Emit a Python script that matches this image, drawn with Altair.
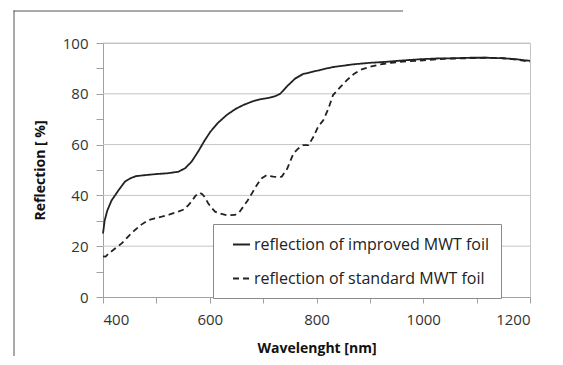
import altair as alt
import pandas as pd

# --- data ---
wl_improved = [400, 403, 408, 416, 429, 441, 452, 462, 480, 500, 520, 541, 554, 566, 579, 590,
               601, 615, 632, 648, 663, 680, 694, 713, 722, 732, 745, 760, 775, 790, 807, 830,
               869, 900, 931, 960, 994, 1025, 1056, 1090, 1120, 1150, 1175, 1190, 1200]
ref_improved = [25, 30, 34, 38, 42, 45.4, 46.8, 47.6, 48, 48.4, 48.7, 49.3, 50.7, 53.3, 57.5, 61.5,
                65, 68.5, 71.7, 74, 75.6, 77, 77.8, 78.5, 79, 80, 83, 86, 87.8, 88.5, 89.4, 90.5,
                91.6, 92.2, 92.6, 93.1, 93.6, 93.9, 94, 94.2, 94.2, 94, 93.6, 93.2, 93]

wl_standard = [400, 405, 410, 422, 435, 448, 460, 472, 485, 497, 510, 525, 541, 552, 560, 566,
               572, 578, 582, 586, 590, 597, 604, 610, 620, 629, 638, 647, 655, 663, 671, 679,
               688, 697, 707, 713, 719, 727, 735, 745, 757, 766, 775, 785, 794, 803, 813, 822,
               831, 844, 857, 870, 882, 900, 919, 940, 970, 1000, 1040, 1080, 1120, 1150, 1180, 1200]
ref_standard = [16, 15.9, 17, 19, 21.1, 24, 26.4, 28.5, 30.3, 31, 31.6, 32.5, 33.6, 34.5, 36.2, 37.6,
                39.5, 40.8, 41, 40.5, 39.5, 36.9, 35, 33.6, 32.8, 32.3, 32.2, 32.3, 33.3, 35.6, 38, 40.8,
                44, 46.7, 48, 47.6, 47.4, 47.2, 47.4, 50.5, 56.6, 58.5, 59.8, 59.8, 63, 67, 69.7, 74,
                79.5, 82.5, 85.4, 87.8, 89.4, 90.6, 91.6, 92.2, 92.8, 93.2, 93.8, 94, 94.2, 94, 93.3, 92.6]

series_names = ["reflection of improved MWT foil", "reflection of standard MWT foil"]
x_ticks = [400, 500, 600, 700, 800, 900, 1000, 1100, 1200]
y_ticks = [0, 10, 20, 30, 40, 50, 60, 70, 80, 90, 100]
grid_values = [20, 40, 60, 80, 100]

df = pd.concat([
    pd.DataFrame({"wl": wl_improved, "r": ref_improved, "series": series_names[0], "order": range(len(wl_improved))}),
    pd.DataFrame({"wl": wl_standard, "r": ref_standard, "series": series_names[1], "order": range(len(wl_standard))}),
])
grid_df = pd.DataFrame({"r": grid_values})

FONT = "Open Sans"

x_scale = alt.Scale(domain=[400, 1200], nice=False, zero=False)
y_scale = alt.Scale(domain=[0, 100], nice=False)

y_axis = alt.Axis(values=y_ticks, title="Reflection [ %]",
                  labelExpr="datum.value % 20 == 0 ? datum.label : ''",
                  grid=False, tickSize=7, labelPadding=8, titlePadding=15)

grid = alt.Chart(grid_df).mark_rule(color="#c4c4c4", strokeWidth=1).encode(
    y=alt.Y("r:Q", scale=y_scale, axis=y_axis)
)

lines = alt.Chart(df).mark_line(color="#222222", strokeWidth=1.8).encode(
    x=alt.X("wl:Q", scale=x_scale,
            axis=alt.Axis(values=x_ticks, title="Wavelenght [nm]", format="d",
                          labelExpr="datum.value % 200 == 0 ? datum.label : ''",
                          grid=False, tickSize=6, labelPadding=9, titlePadding=14)),
    y=alt.Y("r:Q", scale=y_scale, axis=y_axis),
    strokeDash=alt.StrokeDash("series:N",
                              scale=alt.Scale(domain=series_names, range=[[1, 0], [6, 4]]),
                              legend=alt.Legend(title=None, orient="none", legendX=110, legendY=181,
                                                symbolType="stroke", symbolSize=289,
                                                symbolStrokeWidth=1.8, symbolStrokeColor="#222222",
                                                symbolOffset=8,
                                                labelFontSize=16, labelFont=FONT, labelColor="#222222",
                                                labelOffset=3, rowPadding=16, padding=11,
                                                strokeColor="#8a8a8a", fillColor="white",
                                                labelLimit=400)),
    order="order:Q",
)

frame_df = pd.DataFrame({"a": [0]})
frame_left = alt.Chart(frame_df).mark_rect(fill="#555555", strokeWidth=0).encode(
    x=alt.value(-89.5), x2=alt.value(-88.5), y=alt.value(-32.5), y2=alt.value(313)
)
frame_top = alt.Chart(frame_df).mark_rect(fill="#555555", strokeWidth=0).encode(
    x=alt.value(-89.5), x2=alt.value(300), y=alt.value(-32.5), y2=alt.value(-31.5)
)

chart = alt.layer(frame_left, frame_top, grid, lines).properties(
    width=427, height=254,
    autosize=alt.AutoSizeParams(type="none"),
    padding={"left": 95, "top": 35, "right": 25, "bottom": 60},
).configure_view(
    stroke="#c4c4c4", strokeWidth=1
).configure_axis(
    labelFont=FONT, titleFont=FONT, labelFontSize=15, titleFontSize=14,
    labelColor="#333333", titleColor="#111111", titleFontWeight="bold",
    domainColor="#a0a0a0", tickColor="#a0a0a0"
)

chart.save("out.html", embed_options={"renderer": "svg", "actions": False})
